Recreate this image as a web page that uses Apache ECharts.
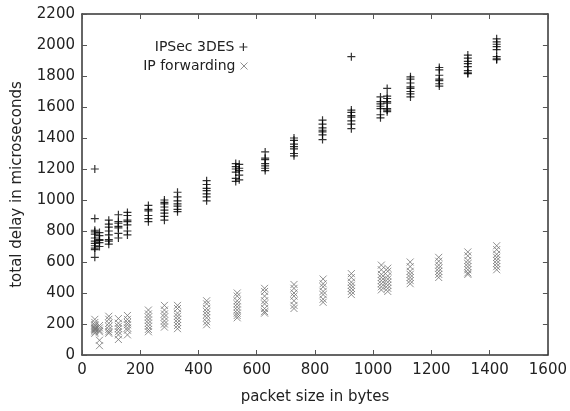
<!DOCTYPE html>
<html>
<head>
<meta charset="utf-8">
<script src="https://cdn.jsdelivr.net/npm/echarts@6/dist/echarts.min.js"></script>
<style>
  html, body { margin: 0; padding: 0; background: #fff; }
  #main { width: 570px; height: 411px; }
</style>
</head>
<body>
<div id="main"></div>
<script>
// packet sizes (bytes) of each measured group, and the delays seen there
var ipsecSizes = [44, 60, 92, 125, 156, 228, 283, 328, 428, 528, 540, 629, 728, 826, 925, 1025, 1048, 1128, 1227, 1325, 1424];
var ipsecDelays = [
    [1200, 880, 805, 795, 780, 755, 735, 720, 705, 690, 680, 630],
    [790, 770, 745, 740, 725, 700],
    [870, 845, 825, 800, 775, 745, 735, 715],
    [905, 860, 850, 830, 820, 785, 755],
    [920, 900, 870, 860, 840, 800, 775],
    [965, 940, 930, 900, 880, 860],
    [1000, 985, 975, 955, 935, 915, 895, 870],
    [1050, 1020, 995, 975, 960, 940, 925],
    [1125, 1100, 1075, 1060, 1040, 1020, 995],
    [1235, 1215, 1200, 1180, 1140, 1120],
    [1230, 1205, 1190, 1160, 1130],
    [1310, 1270, 1260, 1235, 1220, 1205, 1190],
    [1400, 1385, 1360, 1345, 1330, 1300, 1285],
    [1515, 1490, 1465, 1450, 1440, 1420, 1390],
    [1925, 1580, 1565, 1545, 1535, 1510, 1490, 1460],
    [1665, 1635, 1620, 1605, 1590, 1550, 1530],
    [1720, 1670, 1655, 1635, 1625, 1590, 1580, 1570],
    [1795, 1780, 1755, 1730, 1720, 1700, 1685, 1665],
    [1855, 1840, 1805, 1780, 1770, 1750, 1735],
    [1935, 1915, 1895, 1880, 1860, 1835, 1820, 1815],
    [2040, 2020, 2005, 1990, 1970, 1925, 1910, 1905]
];
var fwdSizes = [44, 60, 92, 125, 156, 228, 283, 328, 428, 533, 627, 728, 828, 925, 1028, 1050, 1127, 1225, 1325, 1424];
var fwdDelays = [
    [230, 210, 195, 185, 175, 170, 165, 160, 150, 140],
    [190, 175, 160, 150, 95, 60],
    [250, 230, 205, 185, 165, 150, 140],
    [235, 205, 185, 170, 150, 130, 100],
    [255, 230, 210, 195, 175, 160, 130],
    [290, 265, 245, 225, 205, 185, 165, 150],
    [320, 290, 265, 245, 220, 200, 180],
    [320, 300, 270, 250, 230, 210, 190, 170],
    [350, 330, 300, 280, 260, 240, 215, 195],
    [400, 380, 350, 330, 310, 290, 270, 255, 240],
    [430, 410, 380, 350, 330, 300, 280, 270],
    [455, 430, 400, 380, 350, 320, 300],
    [490, 460, 440, 410, 390, 360, 340],
    [525, 500, 470, 450, 430, 410, 390],
    [580, 550, 520, 500, 480, 460, 440, 420],
    [560, 540, 510, 490, 470, 450, 430, 410],
    [600, 570, 540, 520, 500, 480, 460],
    [630, 605, 580, 560, 540, 520, 500],
    [665, 640, 610, 590, 570, 550, 530, 520],
    [705, 680, 650, 630, 610, 590, 570, 550]
];

function pairs(sizes, delays) {
    var out = [];
    for (var i = 0; i < sizes.length; i++) {
        for (var j = 0; j < delays[i].length; j++) {
            out.push([sizes[i], delays[i][j]]);
        }
    }
    return out;
}

var plusPath = 'path://M0,5L10,5M5,0L5,10';
var crossPath = 'path://M0,0L10,10M10,0L0,10';
var font = 'DejaVu Sans, sans-serif';
var plusStyle = { color: 'rgba(0,0,0,0)', borderColor: '#000', borderWidth: 1.2 };
var crossStyle = { color: 'rgba(0,0,0,0)', borderColor: '#747474', borderWidth: 1 };
var plainNum = function (v) { return String(v); };

var myChart = echarts.init(document.getElementById('main'));

var frameX = {
    type: 'value', min: 0, max: 1600, interval: 200,
    axisLine: { onZero: false, lineStyle: { color: '#333', width: 1.5 } },
    axisTick: { inside: true, length: 5, lineStyle: { color: '#555' } },
    splitLine: { show: false }
};
var frameY = {
    type: 'value', min: 0, max: 2200, interval: 200,
    axisLine: { onZero: false, lineStyle: { color: '#333', width: 1.5 } },
    axisTick: { inside: true, length: 5, lineStyle: { color: '#555' } },
    splitLine: { show: false }
};

var option = {
    animation: false,
    backgroundColor: '#fff',
    textStyle: { fontFamily: font },
    grid: { left: 82, right: 20, top: 14, bottom: 56 },
    legend: [{
        data: [{ name: 'IPSec 3DES', icon: plusPath, itemStyle: plusStyle }],
        orient: 'vertical', align: 'right', right: 317, top: 35,
        itemWidth: 8, itemHeight: 8, itemGap: 5,
        textStyle: { fontFamily: font, fontSize: 14, color: '#222' }
    }, {
        data: [{ name: 'IP forwarding', icon: crossPath, itemStyle: crossStyle }],
        orient: 'vertical', align: 'right', right: 317, top: 54,
        itemWidth: 7, itemHeight: 7, itemGap: 5,
        textStyle: { fontFamily: font, fontSize: 14, color: '#222' }
    }],
    xAxis: [
        Object.assign({}, frameX, {
            position: 'bottom',
            name: 'packet size in bytes', nameLocation: 'middle', nameGap: 35,
            nameTextStyle: { fontFamily: font, fontSize: 15, color: '#222' },
            axisLabel: { fontFamily: font, fontSize: 15, color: '#222', margin: 8, formatter: plainNum }
        }),
        Object.assign({}, frameX, { position: 'top', axisLabel: { show: false } })
    ],
    yAxis: [
        Object.assign({}, frameY, {
            position: 'left',
            name: 'total delay in microseconds', nameLocation: 'middle', nameGap: 57,
            nameTextStyle: { fontFamily: font, fontSize: 15, color: '#222' },
            axisLabel: { fontFamily: font, fontSize: 15, color: '#222', margin: 7, formatter: plainNum }
        }),
        Object.assign({}, frameY, { position: 'right', axisLabel: { show: false } })
    ],
    series: [{
        name: 'IPSec 3DES',
        type: 'scatter',
        symbol: plusPath,
        symbolSize: 8,
        itemStyle: plusStyle,
        data: pairs(ipsecSizes, ipsecDelays)
    }, {
        name: 'IP forwarding',
        type: 'scatter',
        symbol: crossPath,
        symbolSize: 7,
        itemStyle: crossStyle,
        data: pairs(fwdSizes, fwdDelays)
    }]
};
myChart.setOption(option);
</script>
</body>
</html>
